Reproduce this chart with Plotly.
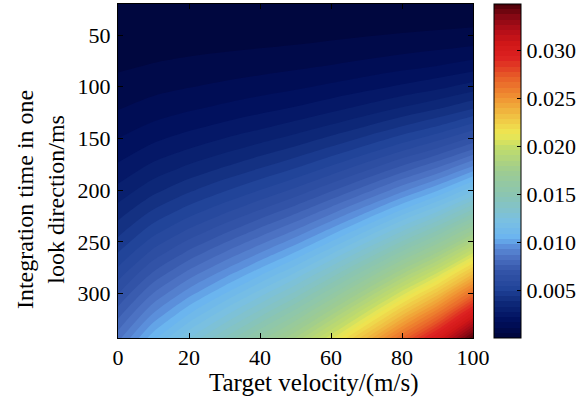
import plotly.graph_objects as go

# Target velocity (m/s) columns
velocity = [0, 10, 20, 30, 40, 50, 60, 70, 80, 90, 100]
# Integration time (ms) rows
int_time = [20, 40, 60, 80, 100, 120, 140, 160, 180, 200, 220, 240, 260, 280, 300, 320, 343]

# Values (one row per integration time)
z_rows = [
    [0.0000289, 0.0000364, 0.0000425, 0.0000483, 0.0000544, 0.0000612, 0.0000697, 0.0000796, 0.0000908, 0.0001027, 0.0001180],
    [0.0001156, 0.0001455, 0.0001700, 0.0001931, 0.0002176, 0.0002448, 0.0002788, 0.0003182, 0.0003631, 0.0004107, 0.0004730],
    [0.000260, 0.000327, 0.000383, 0.000435, 0.000490, 0.000551, 0.000627, 0.000716, 0.000817, 0.000924, 0.001064],
    [0.000462, 0.000582, 0.000680, 0.000772, 0.000870, 0.000979, 0.001115, 0.001273, 0.001452, 0.001643, 0.001893],
    [0.000723, 0.000910, 0.001063, 0.001207, 0.001360, 0.001530, 0.001743, 0.001989, 0.002270, 0.002567, 0.002958],
    [0.001040, 0.001310, 0.001530, 0.001738, 0.001958, 0.002203, 0.002509, 0.002864, 0.003268, 0.003697, 0.004259],
    [0.001416, 0.001783, 0.002083, 0.002366, 0.002666, 0.002999, 0.003415, 0.003898, 0.004448, 0.005031, 0.005797],
    [0.001850, 0.002328, 0.002720, 0.003090, 0.003482, 0.003917, 0.004461, 0.005092, 0.005810, 0.006572, 0.007572],
    [0.002341, 0.002947, 0.003443, 0.003911, 0.004406, 0.004957, 0.005646, 0.006444, 0.007353, 0.008317, 0.009583],
    [0.002890, 0.003638, 0.004250, 0.004828, 0.005440, 0.006120, 0.006970, 0.007956, 0.009078, 0.010268, 0.011830],
    [0.003497, 0.004402, 0.005143, 0.005842, 0.006582, 0.007405, 0.008434, 0.009627, 0.010984, 0.012424, 0.014316],
    [0.004162, 0.005239, 0.006120, 0.006952, 0.007834, 0.008813, 0.010037, 0.011457, 0.013072, 0.014786, 0.017036],
    [0.004884, 0.006148, 0.007183, 0.008159, 0.009194, 0.010343, 0.011779, 0.013446, 0.015342, 0.017353, 0.019994],
    [0.005664, 0.007131, 0.008330, 0.009463, 0.010662, 0.011995, 0.013661, 0.015594, 0.017793, 0.020125, 0.023189],
    [0.006503, 0.008186, 0.009563, 0.010863, 0.012240, 0.013770, 0.015683, 0.017901, 0.020426, 0.023103, 0.026620],
    [0.007398, 0.009313, 0.010880, 0.012360, 0.013926, 0.015667, 0.017843, 0.020367, 0.023240, 0.026286, 0.030288],
    [0.008500, 0.010700, 0.012500, 0.014200, 0.016000, 0.018000, 0.020500, 0.023400, 0.026700, 0.030200, 0.034800],
]

x_ticks = [0, 20, 40, 60, 80, 100]
y_ticks = [50, 100, 150, 200, 250, 300]
cbar_ticks = [0.005, 0.010, 0.015, 0.020, 0.025, 0.030]

x_title = "Target velocity/(m/s)"
y_title = "Integration time in one<br>look direction/ms"

colorscale = [
    [0.00, "#00063a"],
    [0.05, "#000f5c"],
    [0.10, "#0c2676"],
    [0.15, "#22459a"],
    [0.20, "#3454a8"],
    [0.25, "#5078c8"],
    [0.28, "#5e96e0"],
    [0.30, "#6ab4f0"],
    [0.35, "#7ac0e2"],
    [0.42, "#88c4b6"],
    [0.50, "#9ecc90"],
    [0.57, "#c2dc6a"],
    [0.61, "#eee852"],
    [0.66, "#f0c444"],
    [0.72, "#f09232"],
    [0.78, "#e85e28"],
    [0.84, "#dc2020"],
    [0.88, "#d21818"],
    [0.92, "#b40e18"],
    [0.96, "#880814"],
    [1.00, "#4c0008"],
]

zmax = 0.0348
nlev = 64
FONT = "Liberation Serif"
TICK_SIZE = 22

fig = go.Figure(
    go.Contour(
        x=velocity,
        y=int_time,
        z=z_rows,
        colorscale=colorscale,
        zmin=0,
        zmax=zmax,
        autocontour=False,
        contours=dict(start=0, end=zmax, size=zmax / nlev, coloring="fill", showlines=False),
        line=dict(width=0),
        colorbar=dict(
            x=1.059,
            xanchor="left",
            y=0.5,
            yanchor="middle",
            len=1.0,
            lenmode="fraction",
            thickness=27,
            outlinewidth=1,
            outlinecolor="black",
            ticks="inside",
            ticklen=4,
            tickcolor="black",
            tickvals=cbar_ticks,
            ticktext=["%.3f" % t for t in cbar_ticks],
            tickfont=dict(family=FONT, size=TICK_SIZE, color="black"),
            ypad=0,
            xpad=0,
        ),
        hoverinfo="skip",
    )
)

axis_common = dict(
    showline=True,
    linecolor="black",
    linewidth=1,
    mirror="ticks",
    ticks="inside",
    ticklen=5,
    tickcolor="black",
    showgrid=False,
    zeroline=False,
    tickfont=dict(family=FONT, size=TICK_SIZE, color="black"),
)

fig.update_xaxes(range=[0, 100], tickvals=x_ticks, **axis_common)
fig.update_yaxes(range=[343, 20], tickvals=y_ticks, ticklabelstandoff=2, **axis_common)

fig.add_annotation(
    text=x_title, xref="paper", yref="paper", x=0.552, y=-0.135,
    xanchor="center", yanchor="middle", showarrow=False,
    font=dict(family=FONT, size=25, color="black"),
)
fig.add_annotation(
    text=y_title, xref="paper", yref="paper", x=-0.2197, y=0.413,
    xanchor="center", yanchor="middle", showarrow=False, textangle=-90,
    font=dict(family=FONT, size=24, color="black"),
)

fig.update_layout(
    width=588,
    height=398,
    margin=dict(l=118, r=115, t=4, b=60),
    paper_bgcolor="white",
    plot_bgcolor="white",
)

fig.write_html(
    "out.html",
    config={"displayModeBar": False},
    post_script="document.body.style.margin='0';",
)
